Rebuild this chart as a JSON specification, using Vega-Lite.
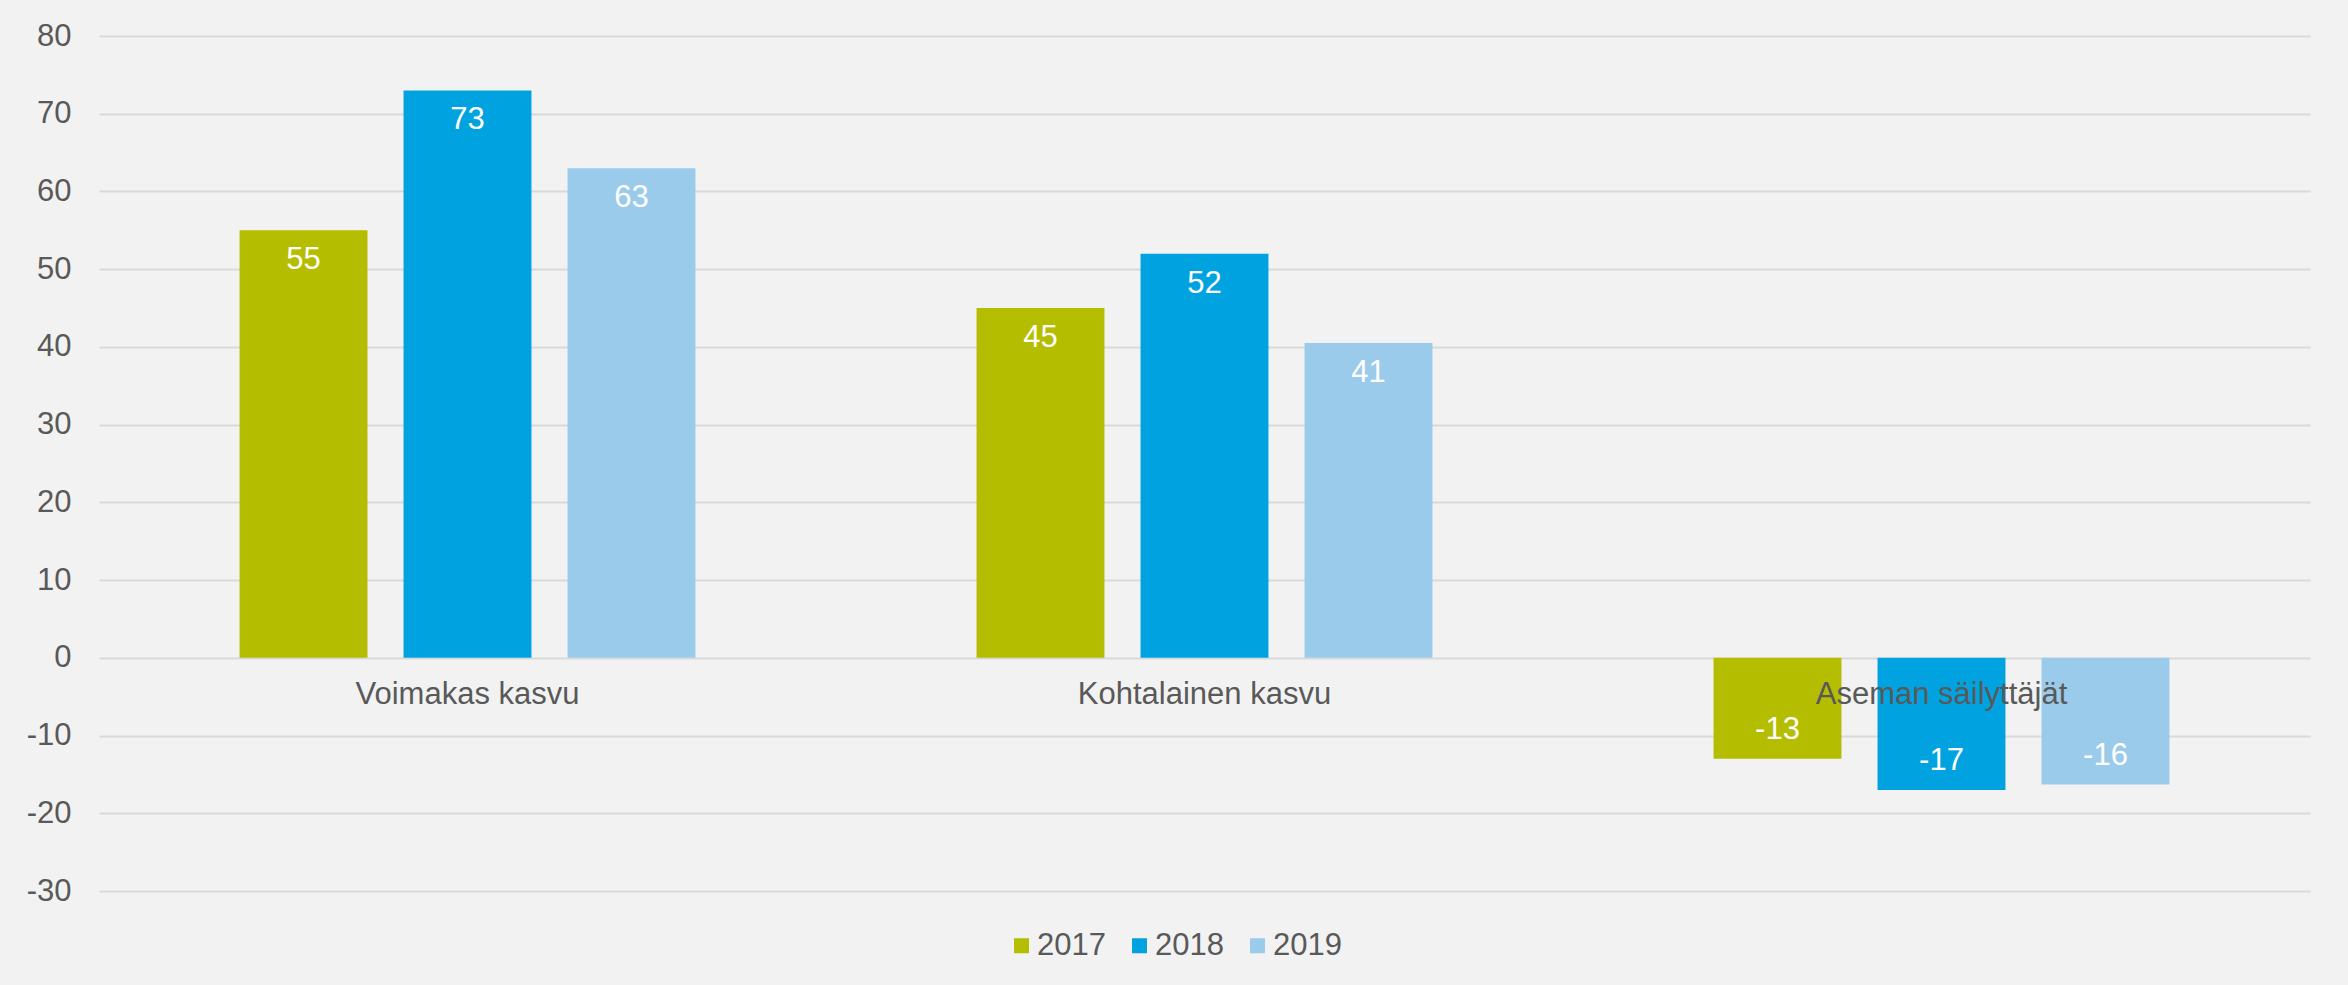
{
  "$schema": "https://vega.github.io/schema/vega-lite/v6.json",
  "autosize": {"type": "none"},
  "padding": {"left": 99, "top": 36, "right": 38, "bottom": 94},
  "width": 2211,
  "height": 855,
  "background": "#F2F2F2",
  "config": {
    "view": {"stroke": null},
    "font": "Liberation Sans",
    "locale": {"number": {"decimal": ".", "thousands": ",", "grouping": [3], "currency": ["", ""], "minus": "-"}},
    "axis": {"labelFont": "Liberation Sans", "labelColor": "#595959", "labelFontSize": 31, "labelLimit": 600},
    "legend": {"labelFont": "Liberation Sans", "labelColor": "#595959", "labelFontSize": 31}
  },
  "data": {
    "values": [
      {"ryhma": "Voimakas kasvu", "vuosi": "2017", "arvo": 55},
      {"ryhma": "Voimakas kasvu", "vuosi": "2018", "arvo": 73},
      {"ryhma": "Voimakas kasvu", "vuosi": "2019", "arvo": 63},
      {"ryhma": "Kohtalainen kasvu", "vuosi": "2017", "arvo": 45},
      {"ryhma": "Kohtalainen kasvu", "vuosi": "2018", "arvo": 52},
      {"ryhma": "Kohtalainen kasvu", "vuosi": "2019", "arvo": 40.5},
      {"ryhma": "Aseman säilyttäjät", "vuosi": "2017", "arvo": -13},
      {"ryhma": "Aseman säilyttäjät", "vuosi": "2018", "arvo": -17},
      {"ryhma": "Aseman säilyttäjät", "vuosi": "2019", "arvo": -16.3}
    ]
  },
  "encoding": {
    "x": {
      "field": "ryhma", "type": "nominal",
      "sort": ["Voimakas kasvu", "Kohtalainen kasvu", "Aseman säilyttäjät"],
      "scale": {"paddingInner": 0, "paddingOuter": 0},
      "axis": {"title": null, "labelAngle": 0, "domain": false, "ticks": false, "grid": false, "offset": -234, "labelPadding": 22, "zindex": 2}
    },
    "xOffset": {
      "field": "vuosi", "type": "nominal",
      "scale": {"paddingInner": 0.22, "paddingOuter": 0.857}
    },
    "y": {
      "field": "arvo", "type": "quantitative",
      "scale": {"domain": [-30, 80], "nice": false},
      "axis": {"title": null, "values": [-30, -20, -10, 0, 10, 20, 30, 40, 50, 60, 70, 80], "format": "d", "domain": false, "ticks": false, "labelPadding": 28, "gridColor": "#D9D9D9", "gridWidth": 2, "zindex": 0}
    }
  },
  "layer": [
    {
      "mark": {"type": "bar"},
      "encoding": {
        "color": {
          "field": "vuosi", "type": "nominal",
          "scale": {"domain": ["2017", "2018", "2019"], "range": ["#B5BD00", "#00A3E0", "#9BCBEB"]},
          "legend": {"title": null, "orient": "none", "legendX": 907, "legendY": 894, "direction": "horizontal", "symbolType": "square", "symbolSize": 225, "symbolStrokeWidth": 0, "labelOffset": 0, "columnPadding": 18}
        }
      }
    },
    {
      "transform": [{"filter": "datum.arvo >= 0"}],
      "mark": {"type": "text", "color": "white", "fontSize": 31, "font": "Liberation Sans", "dy": 30, "baseline": "middle"},
      "encoding": {"text": {"field": "arvo", "type": "quantitative", "format": ".0f"}}
    },
    {
      "transform": [{"filter": "datum.arvo < 0"}],
      "mark": {"type": "text", "color": "white", "fontSize": 31, "font": "Liberation Sans", "dy": -29, "baseline": "middle"},
      "encoding": {"text": {"field": "arvo", "type": "quantitative", "format": ".0f"}}
    }
  ]
}
